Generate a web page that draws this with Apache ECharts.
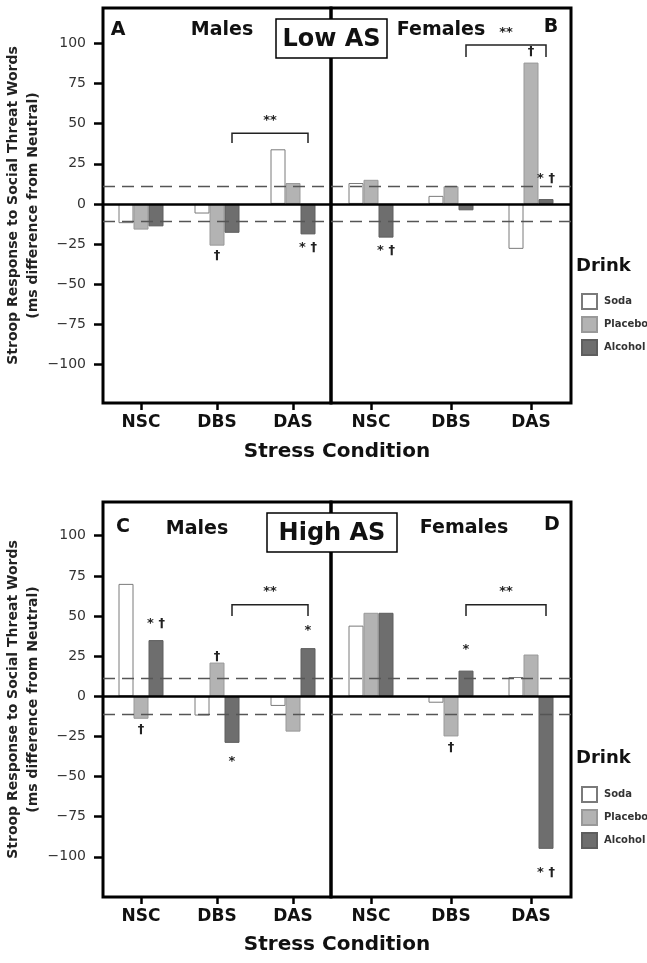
<!DOCTYPE html>
<html><head><meta charset="utf-8">
<script src="https://cdn.jsdelivr.net/npm/echarts@6/dist/echarts.min.js"></script>
<style>html,body{margin:0;padding:0;background:#fff}#c{width:647px;height:963px}</style>
</head><body><div id="c"></div>
<script>
// ---------- data ----------
const conditions = ['NSC', 'DBS', 'DAS'];
const drinks = ['Soda', 'Placebo', 'Alcohol'];
const yTicks = [-100, -75, -50, -25, 0, 25, 50, 75, 100];
const threshold = 11;

// Low AS
const lowMaleSoda = [-12, -6, 34];
const lowMalePlacebo = [-16, -26, 13];
const lowMaleAlcohol = [-14, -18, -19];
const lowFemaleSoda = [13, 5, -28];
const lowFemalePlacebo = [15, 11, 88];
const lowFemaleAlcohol = [-21, -4, 3];
// High AS
const highMaleSoda = [70, -12, -6];
const highMalePlacebo = [-14, 21, -22];
const highMaleAlcohol = [35, -29, 30];
const highFemaleSoda = [44, -4, 12];
const highFemalePlacebo = [52, -25, 26];
const highFemaleAlcohol = [52, 16, -95];

// significance notes: [condition index, drink index, value, text]
const lowMaleNotes = [[1, 1, -32, '†'], [2, 2, -27, '* †']];
const lowFemaleNotes = [[0, 2, -29, '* †'], [2, 1, 95, '†'], [2, 2, 16, '* †']];
const highMaleNotes = [[0, 2, 45, '* †'], [0, 1, -21, '†'], [1, 1, 25, '†'], [1, 2, -41, '*'], [2, 2, 41, '*']];
const highFemaleNotes = [[1, 2, 29, '*'], [1, 1, -32, '†'], [2, 2, -110, '* †']];
// brackets: [cond start, drink start, cond end, drink end, top value, leg value, text value]
const lowMaleBracket = [[1, 2, 2, 2, 44, 38, 52]];
const lowFemaleBracket = [[1, 2, 2, 2, 99, 91.5, 106.5]];
const highMaleBracket = [[1, 2, 2, 2, 57, 50, 65]];
const highFemaleBracket = [[1, 2, 2, 2, 57, 50, 65]];

// ---------- styling ----------
const FONT = 'DejaVu Sans';
const BAR_W = 15;
const grids = [
  {left: 103, top: 8, width: 228, height: 395},
  {left: 331, top: 8, width: 240, height: 395},
  {left: 103, top: 502, width: 228, height: 395},
  {left: 331, top: 502, width: 240, height: 395}
];
const yRanges = [[-124, 122], [-124, 122], [-125, 121], [-125, 121]];
const drinkStyles = [
  {color: '#ffffff', borderColor: '#7a7a7a', borderWidth: 1},
  {color: '#b3b3b3', borderColor: '#999999', borderWidth: 1},
  {color: '#6e6e6e', borderColor: '#5e5e5e', borderWidth: 1}
];
const panels = [
  {vals: [lowMaleSoda, lowMalePlacebo, lowMaleAlcohol], notes: lowMaleNotes, bracket: lowMaleBracket},
  {vals: [lowFemaleSoda, lowFemalePlacebo, lowFemaleAlcohol], notes: lowFemaleNotes, bracket: lowFemaleBracket},
  {vals: [highMaleSoda, highMalePlacebo, highMaleAlcohol], notes: highMaleNotes, bracket: highMaleBracket},
  {vals: [highFemaleSoda, highFemalePlacebo, highFemaleAlcohol], notes: highFemaleNotes, bracket: highFemaleBracket}
];

const xAxes = grids.map((g, i) => ({
  type: 'category', gridIndex: i, data: conditions,
  axisLine: {show: false, onZero: false},
  axisTick: {show: true, alignWithLabel: true, length: 7, lineStyle: {color: '#000', width: 2.5}},
  axisLabel: {fontFamily: FONT, fontWeight: 'bold', fontSize: 17, color: '#111', margin: 11}
}));
const yAxes = grids.map((g, i) => {
  const left = (i % 2 === 0);
  return {
    type: 'value', gridIndex: i, min: yRanges[i][0], max: yRanges[i][1],
    show: left,
    splitLine: {show: false},
    axisLine: {show: false},
    axisTick: {show: left, length: 9, customValues: yTicks, lineStyle: {color: '#000', width: 2.5}},
    axisLabel: {show: left, customValues: yTicks, margin: 17, fontFamily: FONT, fontSize: 14, color: '#333',
      formatter: v => String(v).replace('-', '\u2212')},
    name: left ? 'Stroop Response to Social Threat Words\n(ms difference from Neutral)' : '',
    nameLocation: 'middle', nameGap: 50,
    nameTextStyle: {fontFamily: FONT, fontWeight: 'bold', fontSize: 14, lineHeight: 20, color: '#222'}
  };
});

const series = [];
panels.forEach((p, i) => {
  p.vals.forEach((vals, d) => {
    const s = {
      type: 'bar', name: drinks[d], xAxisIndex: i, yAxisIndex: i, data: vals,
      barWidth: BAR_W, barGap: '0%', itemStyle: drinkStyles[d], silent: true
    };
    if (d === 0) {
      s.markLine = {
        silent: true, symbol: 'none', label: {show: false}, animation: false,
        data: [
          {yAxis: 0, lineStyle: {color: '#000', width: 2.5, type: 'solid'}},
          {yAxis: threshold, lineStyle: {color: '#555', width: 1.4, type: [12, 7]}},
          {yAxis: -threshold, lineStyle: {color: '#555', width: 1.4, type: [12, 7]}}
        ]
      };
    }
    series.push(s);
  });
  const notes = p.notes;
  series.push({
    type: 'custom', name: 'notes' + i, xAxisIndex: i, yAxisIndex: i, silent: true, z: 5,
    data: notes.map(n => [n[0], n[2], n[1]]),
    encode: {x: 0, y: 1},
    renderItem: (params, api) => {
      const n = notes[params.dataIndex];
      const pt = api.coord([n[0], n[2]]);
      return {type: 'text', x: pt[0] + (n[1] - 1) * BAR_W, y: pt[1],
        style: {text: n[3], fill: '#222', fontSize: 13, fontFamily: FONT, fontWeight: 'bold', align: 'center', verticalAlign: 'middle'}};
    }
  });
  const br = p.bracket;
  series.push({
    type: 'custom', name: 'bracket' + i, xAxisIndex: i, yAxisIndex: i, silent: true, z: 5,
    data: br.map(b => [b[0], b[4], b[2], b[5]]),
    encode: {x: [0, 2], y: [1, 3]},
    renderItem: (params, api) => {
      const b = br[params.dataIndex];
      const a = api.coord([b[0], b[4]]), c = api.coord([b[2], b[4]]);
      const legY = api.coord([b[0], b[5]])[1];
      const t = api.coord([b[0], b[6]])[1];
      const x1 = a[0] + (b[1] - 1) * BAR_W, x2 = c[0] + (b[3] - 1) * BAR_W;
      return {type: 'group', children: [
        {type: 'polyline', shape: {points: [[x1, legY], [x1, a[1]], [x2, a[1]], [x2, legY]]},
          style: {stroke: '#222', lineWidth: 1.5, fill: null}},
        {type: 'text', x: (x1 + x2) / 2, y: t,
          style: {text: '**', fill: '#222', fontSize: 13, fontFamily: FONT, fontWeight: 'bold', align: 'center', verticalAlign: 'middle'}}
      ]};
    }
  });
});

function txt(x, y, text, size, align) {
  return {type: 'text', x: x, y: y, z: 20,
    style: {text: text, fontFamily: FONT, fontWeight: 'bold', fontSize: size, fill: '#111', align: align || 'center', verticalAlign: 'middle'}};
}
function box(x, y, w, h, text, size) {
  return {type: 'group', z: 20, children: [
    {type: 'rect', shape: {x: x, y: y, width: w, height: h}, style: {fill: '#fff', stroke: '#000', lineWidth: 1.5}, z: 20},
    {type: 'text', x: x + w / 2, y: y + h / 2 + 1, z: 21,
      style: {text: text, fontFamily: FONT, fontWeight: 'bold', fontSize: size, fill: '#111', align: 'center', verticalAlign: 'middle'}}
  ]};
}

const legendBase = {
  data: drinks, orient: 'vertical', left: 576, itemWidth: 15, itemHeight: 15, itemGap: 6,
  icon: 'rect', selectedMode: false,
  textStyle: {fontFamily: FONT, fontWeight: 'bold', fontSize: 10, color: '#333', padding: [0, 0, 0, 2]}
};

const option = {
  animation: false,
  backgroundColor: '#fff',
  grid: grids.map(g => Object.assign({show: true, borderColor: '#000', borderWidth: 3, backgroundColor: 'transparent'}, g)),
  xAxis: xAxes,
  yAxis: yAxes,
  legend: [Object.assign({top: 288}, legendBase), Object.assign({top: 781}, legendBase)],
  series: series,
  graphic: [
    txt(118, 30, 'A', 19), txt(222, 30, 'Males', 19), txt(441, 30, 'Females', 19), txt(551, 27, 'B', 19),
    box(276, 19, 111, 39, 'Low AS', 24),
    txt(123, 527, 'C', 19), txt(197, 529, 'Males', 19), txt(464, 528, 'Females', 19), txt(552, 525, 'D', 19),
    box(267, 513, 130, 39, 'High AS', 24),
    txt(337, 452, 'Stress Condition', 20), txt(337, 945, 'Stress Condition', 20),
    txt(576, 266, 'Drink', 18, 'left'), txt(576, 758, 'Drink', 18, 'left')
  ]
};

const chart = echarts.init(document.getElementById('c'), null, {renderer: 'canvas'});
chart.setOption(option);
</script>
</body></html>
